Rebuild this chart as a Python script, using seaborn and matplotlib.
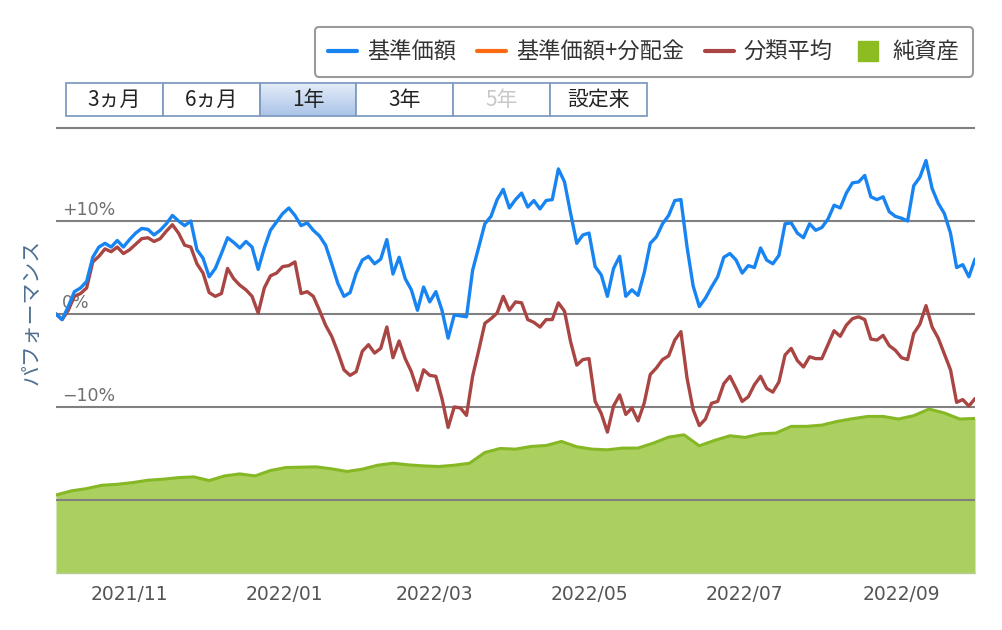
import numpy as np
import pandas as pd
import matplotlib
matplotlib.use("Agg")
import matplotlib.pyplot as plt
import matplotlib.dates as mdates
from matplotlib.patches import Rectangle
from matplotlib.lines import Line2D
from matplotlib.colors import LinearSegmentedColormap
import seaborn as sns

# ---------------- data ----------------
start_date = "2021-10-03"
end_date = "2022-09-30"

nav = [0.0, -0.6, 0.8, 2.4, 2.8, 3.5, 6.1, 7.2, 7.6, 7.2,
       7.9, 7.2, 8.0, 8.7, 9.2, 9.1, 8.5, 9.0, 9.7, 10.6,
       10.0, 9.5, 10.0, 6.9, 6.0, 4.0, 4.9, 6.5, 8.2, 7.7,
       7.1, 7.8, 7.2, 4.8, 7.1, 9.0, 9.9, 10.8, 11.4, 10.6,
       9.5, 9.8, 9.0, 8.4, 7.4, 5.4, 3.3, 1.9, 2.3, 4.4,
       5.8, 6.2, 5.4, 5.9, 8.0, 4.3, 6.1, 3.8, 2.6, 0.4,
       2.9, 1.3, 2.4, 0.4, -2.6, -0.1, -0.2, -0.3, 4.7, 7.2,
       9.7, 10.5, 12.3, 13.4, 11.4, 12.3, 13.0, 11.5, 12.2, 11.3,
       12.2, 12.3, 15.6, 14.2, 10.8, 7.6, 8.5, 8.7, 5.1, 4.2,
       1.9, 4.9, 6.2, 1.9, 2.6, 2.0, 4.4, 7.6, 8.3, 9.7,
       10.6, 12.2, 12.3, 7.2, 3.0, 0.8, 1.7, 2.9, 4.0, 6.1,
       6.5, 5.8, 4.4, 5.2, 5.0, 7.1, 5.8, 5.4, 6.3, 9.7,
       9.8, 8.7, 8.2, 9.7, 9.0, 9.3, 10.2, 11.7, 11.4, 13.0,
       14.1, 14.2, 14.9, 12.6, 12.3, 12.6, 11.0, 10.5, 10.3, 10.0,
       13.8, 14.7, 16.5, 13.5, 11.9, 10.8, 8.7, 5.0, 5.3, 4.0,
       5.9]

category_avg = [0.0, -0.6, 0.4, 1.9, 2.2, 2.8, 5.6, 6.2, 7.0, 6.7,
                7.2, 6.5, 6.9, 7.5, 8.1, 8.2, 7.8, 8.1, 8.9, 9.6,
                8.7, 7.4, 7.2, 5.4, 4.4, 2.3, 1.9, 2.2, 4.9, 3.8,
                3.1, 2.6, 1.9, 0.1, 2.8, 4.1, 4.4, 5.1, 5.2, 5.6,
                2.2, 2.4, 1.9, 0.4, -1.2, -2.4, -4.1, -6.0, -6.6, -6.2,
                -4.0, -3.3, -4.2, -3.7, -1.4, -4.7, -2.9, -4.8, -6.2, -8.2,
                -6.0, -6.6, -6.7, -9.1, -12.2, -10.0, -10.1, -10.9, -6.7, -3.9,
                -1.0, -0.5, 0.1, 1.9, 0.4, 1.3, 1.2, -0.6, -0.9, -1.4,
                -0.6, -0.6, 1.2, 0.3, -3.0, -5.5, -4.9, -4.8, -9.4, -10.7,
                -12.7, -9.9, -8.7, -10.8, -10.1, -11.5, -9.6, -6.5, -5.8, -4.9,
                -4.5, -2.8, -1.9, -6.9, -10.3, -12.0, -11.3, -9.6, -9.4, -7.5,
                -6.7, -8.0, -9.4, -8.9, -7.6, -6.7, -8.0, -8.4, -7.3, -4.4,
                -3.7, -5.0, -5.7, -4.6, -4.8, -4.8, -3.3, -1.8, -2.4, -1.2,
                -0.5, -0.3, -0.6, -2.7, -2.8, -2.3, -3.4, -3.9, -4.7, -4.9,
                -2.1, -1.1, 0.9, -1.4, -2.6, -4.3, -6.0, -9.5, -9.2, -9.9,
                -9.1]

net_assets = [105.2, 110.7, 113.8, 118.3, 119.6, 121.9, 125.1, 126.5, 128.6, 129.6,
              124.6, 130.9, 133.6, 130.9, 138.2, 142.2, 142.7, 143.1, 140.4, 136.9,
              140.0, 145.3, 148.0, 145.8, 144.4, 143.6, 145.3, 148.0, 162.5, 167.9,
              167.0, 170.6, 171.9, 177.4, 170.2, 167.0, 166.1, 168.4, 168.4, 175.1,
              183.2, 186.3, 171.5, 178.8, 185.0, 182.8, 187.7, 188.6, 197.7, 197.7,
              199.4, 204.4, 208.0, 211.1, 211.1, 207.6, 212.1, 221.1, 215.7, 207.6,
              208.4]

legend_labels = ["基準価額", "基準価額+分配金", "分類平均", "純資産"]
button_labels = ["3ヵ月", "6ヵ月", "1年", "3年", "5年", "設定来"]
selected_button = "1年"
disabled_button = "5年"
ytick_values = [10, 0, -10]
ytick_labels = ["+10%", "0%", "\u221210%"]
grid_values = [-20, -10, 0, 10, 20]
y_axis_title = "パフォーマンス"

# ---------------- style ----------------
BLUE = "#1784f2"
ORANGE = "#fb6b12"
RED = "#a94542"
GREEN_FILL = "#8fc12a"
GREEN_EDGE = "#86b826"

sns.set_style("white")
plt.rcParams["font.family"] = ["Noto Sans CJK JP", "DejaVu Sans"]

W, H = 1002, 630
fig = plt.figure(figsize=(W / 100, H / 100), dpi=100)
fig.patch.set_facecolor("white")


def fx(px):
    return px / W


def fy(py):
    return 1 - py / H


AX_L, AX_R, AX_T, AX_B = 56, 975, 126, 573
ax = fig.add_axes([fx(AX_L), fy(AX_B), (AX_R - AX_L) / W, (AX_B - AX_T) / H])
ax2 = ax.twinx()

perf = pd.DataFrame({
    "date": pd.date_range(start_date, end_date, periods=len(nav)),
    "基準価額": nav,
    "分類平均": category_avg,
})
assets = pd.DataFrame({
    "date": pd.date_range(start_date, end_date, periods=len(net_assets)),
    "純資産": net_assets,
})

# net assets area (secondary, hidden axis)
ax2.fill_between(assets["date"], 0, assets["純資産"], color=GREEN_FILL, alpha=0.75, lw=0)
sns.lineplot(data=assets, x="date", y="純資産", ax=ax2, color=GREEN_EDGE, lw=2.2)
ax2.set_ylim(0, (AX_B - AX_T) / 0.7417)
ax2.set_yticks([])
ax2.set_ylabel("")
for s in ax2.spines.values():
    s.set_visible(False)
ax2.patch.set_visible(False)

# performance lines
sns.lineplot(data=perf, x="date", y="分類平均", ax=ax, color=RED, lw=2.4, zorder=4)
sns.lineplot(data=perf, x="date", y="基準価額", ax=ax, color=BLUE, lw=2.4, zorder=5)

ax.set_zorder(ax2.get_zorder() + 1)
ax.patch.set_visible(False)

px_per_pct = 9.3
ax.set_ylim((314 - AX_B) / px_per_pct, (314 - AX_T) / px_per_pct)
ax.set_xlim(pd.Timestamp(start_date), pd.Timestamp(end_date))
ax.set_yticks(grid_values)
ax.grid(axis="y", color=(0.5, 0.5, 0.5, 0.32), lw=1.5)
ax.grid(axis="x", visible=False)
ax.tick_params(axis="y", length=0, labelleft=False)
ax.set_xlabel("")
ax.set_ylabel("")
for side in ["top", "left", "right"]:
    ax.spines[side].set_visible(False)
ax.spines["bottom"].set_color("#b8cc98")
ax.spines["bottom"].set_linewidth(1.0)

ax.xaxis.set_major_locator(mdates.MonthLocator(bymonth=[1, 3, 5, 7, 9, 11]))
ax.xaxis.set_major_formatter(mdates.DateFormatter("%Y/%m"))
ax.tick_params(axis="x", length=6, width=1.2, color="#c5d3e2", labelsize=13.5,
               labelcolor="#555555", pad=3)
for lab in ax.get_xticklabels():
    lab.set_family("DejaVu Sans")

for v, s in zip(ytick_values, ytick_labels):
    ax.annotate(s, xy=(0, v), xycoords=("axes fraction", "data"), xytext=(6, 2),
                textcoords="offset pixels", ha="left", va="bottom", fontsize=12.5,
                color="#6f6f6f", family="DejaVu Sans", zorder=1)

fig.text(fx(33), fy(312), y_axis_title, rotation=90, ha="center", va="center",
         fontsize=15, color="#4d6f91")

# legend
handles = [
    Line2D([], [], color=BLUE, lw=3),
    Line2D([], [], color=ORANGE, lw=3),
    Line2D([], [], color=RED, lw=3),
    Line2D([], [], marker="s", ls="none", markersize=15,
           markerfacecolor="#8cbb22", markeredgecolor="#8cbb22"),
]
leg = fig.legend(handles, legend_labels, loc="upper right",
                 bbox_to_anchor=(fx(973), fy(27)), ncol=4, fontsize=16,
                 frameon=True, fancybox=True, edgecolor="#9a9a9a", framealpha=1,
                 handlelength=1.3, handletextpad=0.45, columnspacing=0.95,
                 borderpad=0.6, borderaxespad=0)
leg.get_frame().set_linewidth(1.5)
for t in leg.get_texts():
    t.set_color("#333333")

# range buttons
BX0, BW, BT, BB = 66, 96.8, 83, 116
grad_cmap = LinearSegmentedColormap.from_list("sel", ["#aac3e8", "#e4edf9"])
for i, lab in enumerate(button_labels):
    x0 = BX0 + i * BW
    if lab == selected_button:
        axg = fig.add_axes([fx(x0), fy(BB), BW / W, (BB - BT) / H])
        axg.imshow(np.linspace(0, 1, 50).reshape(-1, 1), aspect="auto",
                   cmap=grad_cmap, extent=[0, 1, 0, 1], origin="lower")
        axg.axis("off")
        face = "none"
    else:
        face = "white"
    rect = Rectangle((fx(x0), fy(BB)), BW / W, (BB - BT) / H, transform=fig.transFigure,
                     facecolor=face, edgecolor="#7f9cc0", lw=1.3, zorder=2)
    fig.add_artist(rect)
    color = "#c8c8c8" if lab == disabled_button else "#222222"
    fig.text(fx(x0 + BW / 2), fy((BT + BB) / 2), lab, ha="center", va="center",
             fontsize=15, color=color, zorder=3)

fig.savefig("out.png", dpi=100, facecolor="white")
